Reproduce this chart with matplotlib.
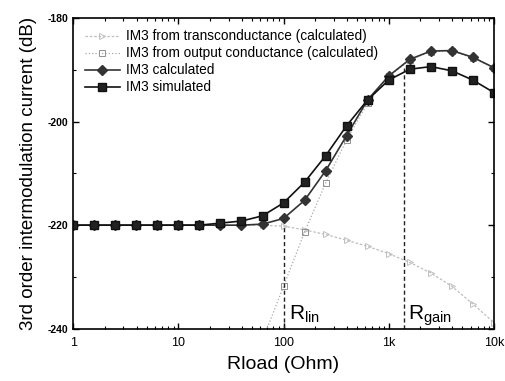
import matplotlib
matplotlib.use('Agg')
import matplotlib.pyplot as plt
import numpy as np
from matplotlib.ticker import FixedLocator, NullFormatter

plt.rcParams['font.family'] = ['Liberation Sans', 'DejaVu Sans']
plt.rcParams['mathtext.fontset'] = 'custom'
plt.rcParams['mathtext.rm'] = 'Liberation Sans'
plt.rcParams['mathtext.it'] = 'Liberation Sans'

# Rload sweep, 5 points per decade
rload = [1, 1.585, 2.512, 3.981, 6.31, 10, 15.85, 25.12, 39.81, 63.1,
         100, 158.5, 251.2, 398.1, 631, 1000, 1585, 2512, 3981, 6310, 10000]

im3_sim = [-220, -220, -220, -220, -220, -220, -220, -219.6, -219.2, -218.2,
           -215.7, -211.7, -206.6, -200.8, -195.8, -192.0, -189.9, -189.4, -190.2, -192.0, -194.4]
im3_calc = [-220, -220, -220, -220, -220, -220, -220, -220, -220, -219.8,
            -218.7, -215.2, -209.5, -202.7, -195.8, -191.2, -188.0, -186.4, -186.3, -187.6, -189.6]
im3_gm = [-220, -220, -220, -220, -220, -220, -220, -220, -220, -220,
          -220.2, -220.9, -221.8, -222.9, -224.1, -225.5, -227.2, -229.2, -231.8, -235.2, -238.8]
im3_gds = [None] * 9 + [-242.2, -231.8, -221.3, -211.9, -203.5, -196.4,
                        -191.3, -188.1, -186.5, -186.4, -187.7, -189.7]

r_lin = 100
r_gain = 1400

fig = plt.figure(figsize=(5.05, 3.81), dpi=100)
ax = fig.add_axes([0.145, 0.137, 0.833, 0.816])

x_gds = [r for r, v in zip(rload, im3_gds) if v is not None]
y_gds = [v for v in im3_gds if v is not None]

ax.plot(rload, im3_gm, color='#bdbdbd', ls=(0, (2, 1.5)), lw=0.9, marker='>',
        mfc='none', mec='#c0c0c0', ms=5, mew=0.7,
        label='IM3 from transconductance (calculated)')
ax.plot(x_gds, y_gds, color='#a8a8a8', ls=':', lw=0.9, marker='s',
        mfc='none', mec='#909090', ms=5, mew=0.7,
        label='IM3 from output conductance (calculated)')
ax.plot(rload, im3_calc, color='#333333', lw=1.2, marker='D', ms=4.8,
        mfc='#333333', mec='#333333', label='IM3 calculated')
ax.plot(rload, im3_sim, color='#111111', lw=1.2, marker='s', ms=5.2,
        mfc='#222222', mec='#111111', label='IM3 simulated')

ax.plot([r_lin, r_lin], [-240, -220.2], color='#222222', lw=1.0, dashes=(3, 2))
ax.plot([r_gain, r_gain], [-240, -189.6], color='#222222', lw=1.0, dashes=(3, 2))

ax.text(r_lin * 1.12, -238.3, r'R$_{\mathrm{lin}}$', fontsize=15)
ax.text(r_gain * 1.08, -238.3, r'R$_{\mathrm{gain}}$', fontsize=15)

ax.set_xscale('log')
ax.set_xlim(1, 10000)
ax.set_ylim(-240, -180)
ax.set_xticks([1, 10, 100, 1000, 10000])
ax.set_xticklabels(['1', '10', '100', '1k', '10k'], fontsize=9)
ax.set_yticks([-240, -220, -200, -180])
ax.set_yticklabels(['-240', '-220', '-200', '-180'], fontsize=7.5, fontweight='bold')
ax.yaxis.set_minor_locator(FixedLocator([-230, -210, -190]))
ax.xaxis.set_minor_formatter(NullFormatter())
ax.tick_params(which='both', direction='in', top=True, right=True)
ax.tick_params(which='major', length=4, width=1)
ax.tick_params(which='minor', length=2.5, width=0.8)
ax.tick_params(axis='x', which='major', pad=6)
for s in ax.spines.values():
    s.set_linewidth(1.2)

ax.set_xlabel('Rload (Ohm)', fontsize=14, labelpad=5)
ax.set_ylabel('3rd order intermodulation current (dB)', fontsize=13.5, labelpad=8)

ax.legend(loc='upper left', frameon=False, fontsize=9.8, handlelength=2.6,
          handletextpad=0.4, labelspacing=0.22, borderaxespad=0.45)

fig.savefig('out.png', dpi=100)
